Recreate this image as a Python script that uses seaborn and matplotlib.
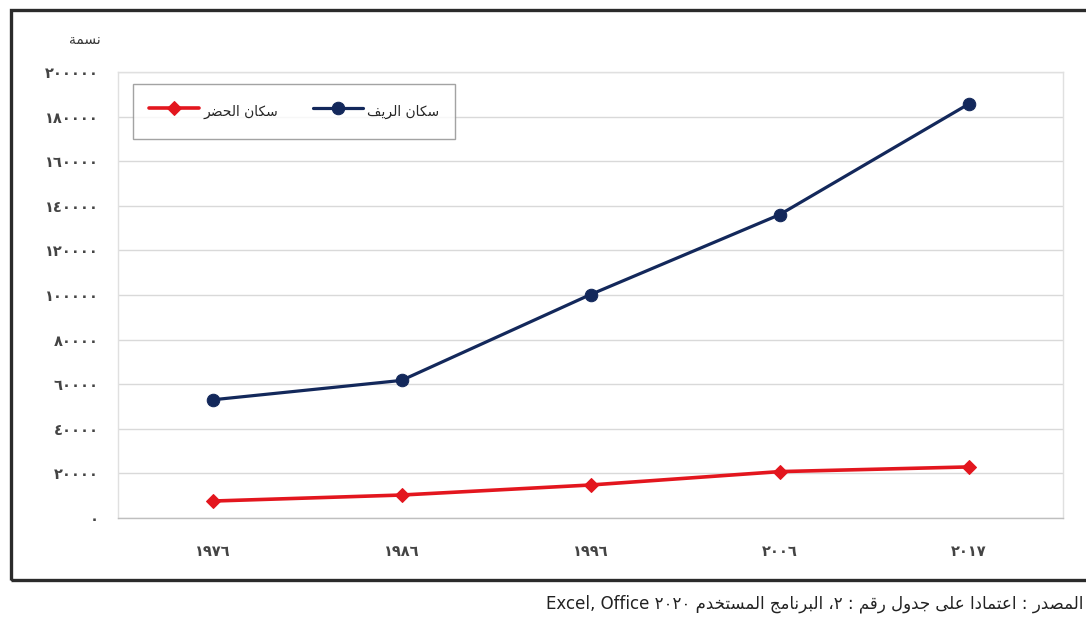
import matplotlib
matplotlib.use("Agg")
import matplotlib.pyplot as plt
from matplotlib.patches import Rectangle
from matplotlib.ticker import FuncFormatter
import pandas as pd
import seaborn as sns

# ---- data -------------------------------------------------------------
years = ["1976", "1986", "1996", "2006", "2017"]
rural = [53000, 61700, 100200, 136000, 185600]   # سكان الريف
urban = [7600, 10300, 14800, 20800, 22900]       # سكان الحضر
rural_name = "سكان الريف"
urban_name = "سكان الحضر"
y_unit = "نسمة"
source_ar = "المصدر : اعتمادا على جدول رقم : ٢، البرنامج المستخدم ٢٠٢٠"
source_en = "Excel, Office"
y_ticks = list(range(0, 200001, 20000))

# ---- minimal Arabic shaping (presentation forms + visual order) -------
FORMS = {
    'ا': ('\uFE8D', '\uFE8E', None, None),
    'ب': ('\uFE8F', '\uFE90', '\uFE91', '\uFE92'),
    'ة': ('\uFE93', '\uFE94', None, None),
    'ت': ('\uFE95', '\uFE96', '\uFE97', '\uFE98'),
    'ج': ('\uFE9D', '\uFE9E', '\uFE9F', '\uFEA0'),
    'ح': ('\uFEA1', '\uFEA2', '\uFEA3', '\uFEA4'),
    'خ': ('\uFEA5', '\uFEA6', '\uFEA7', '\uFEA8'),
    'د': ('\uFEA9', '\uFEAA', None, None),
    'ر': ('\uFEAD', '\uFEAE', None, None),
    'س': ('\uFEB1', '\uFEB2', '\uFEB3', '\uFEB4'),
    'ص': ('\uFEB9', '\uFEBA', '\uFEBB', '\uFEBC'),
    'ض': ('\uFEBD', '\uFEBE', '\uFEBF', '\uFEC0'),
    'ع': ('\uFEC9', '\uFECA', '\uFECB', '\uFECC'),
    'ف': ('\uFED1', '\uFED2', '\uFED3', '\uFED4'),
    'ق': ('\uFED5', '\uFED6', '\uFED7', '\uFED8'),
    'ك': ('\uFED9', '\uFEDA', '\uFEDB', '\uFEDC'),
    'ل': ('\uFEDD', '\uFEDE', '\uFEDF', '\uFEE0'),
    'م': ('\uFEE1', '\uFEE2', '\uFEE3', '\uFEE4'),
    'ن': ('\uFEE5', '\uFEE6', '\uFEE7', '\uFEE8'),
    'و': ('\uFEED', '\uFEEE', None, None),
    'ى': ('\uFEEF', '\uFEF0', None, None),
    'ي': ('\uFEF1', '\uFEF2', '\uFEF3', '\uFEF4'),
}
DIGITS = str.maketrans("0123456789", "٠١٢٣٤٥٦٧٨٩")


def shape_word(word):
    out = []
    for i, ch in enumerate(word):
        if ch not in FORMS:
            out.append(ch)
            continue
        iso, fin, ini, med = FORMS[ch]
        prev = word[i - 1] if i > 0 else None
        nxt = word[i + 1] if i < len(word) - 1 else None
        join_prev = prev in FORMS and FORMS[prev][2] is not None
        join_next = nxt in FORMS and ini is not None
        if join_prev and join_next:
            out.append(med)
        elif join_prev:
            out.append(fin)
        elif join_next:
            out.append(ini)
        else:
            out.append(iso)
    return "".join(reversed(out))


def rtl(text):
    tokens = []
    for tok in reversed(text.split(" ")):
        if all(c in "٠١٢٣٤٥٦٧٨٩" for c in tok):
            tokens.append(tok)
        else:
            tokens.append(shape_word(tok))
    return " ".join(tokens)


def ar_num(v, _pos=None):
    return str(int(v)).translate(DIGITS)


# ---- long-form table for seaborn --------------------------------------
df = pd.DataFrame({
    "pos": list(range(len(years))) * 2,
    "value": rural + urban,
    "series": [rural_name] * len(years) + [urban_name] * len(years),
})

sns.set_theme(style="white")
plt.rcParams["font.family"] = ["DejaVu Sans"]

W, H = 1086, 617
fig = plt.figure(figsize=(W / 100, H / 100), dpi=100)
ax = fig.add_axes([118 / W, 1 - 518 / H, 945 / W, (518 - 72) / H])

navy = "#13285b"
red = "#e3161e"

sns.lineplot(data=df[df.series == rural_name], x="pos", y="value", ax=ax,
             color=navy, linewidth=2.3, marker="o", markersize=9,
             markeredgecolor=navy, label=rural_name)
sns.lineplot(data=df[df.series == urban_name], x="pos", y="value", ax=ax,
             color=red, linewidth=2.6, marker="D", markersize=7,
             markeredgecolor=red, label=urban_name)

ax.set_xlim(-0.5, len(years) - 0.5)
ax.set_ylim(0, 200000)
ax.set_yticks(y_ticks)
ax.yaxis.set_major_formatter(FuncFormatter(ar_num))
ax.set_xticks(range(len(years)))
ax.set_xticklabels([y.translate(DIGITS) for y in years])
ax.set_xlabel("")
ax.set_ylabel("")
ax.grid(axis="y", color="#d9d9d9", linewidth=1)
ax.grid(axis="x", visible=False)
ax.tick_params(axis="y", length=0, pad=14, labelsize=10.5, labelcolor="#444444")
ax.tick_params(axis="x", length=0, pad=19, labelsize=10.5, labelcolor="#444444")
for lab in ax.get_xticklabels() + ax.get_yticklabels():
    lab.set_fontweight("bold")
for side in ("left", "top", "right"):
    ax.spines[side].set_color("#e0e0e0")
    ax.spines[side].set_linewidth(1)
ax.spines["bottom"].set_color("#bfbfbf")
ax.spines["bottom"].set_linewidth(1)

# legend: urban first, then rural, in a framed box
handles, labels = ax.get_legend_handles_labels()
order = [labels.index(urban_name), labels.index(rural_name)]
leg = ax.legend([handles[i] for i in order], [rtl(labels[i]) for i in order],
                ncol=2, loc="upper left",
                bbox_to_anchor=((133 - 118) / 945, (518 - 84) / 446),
                frameon=True, fancybox=False, fontsize=10,
                handlelength=3.6, handleheight=2.2, handletextpad=0.3,
                columnspacing=2.5, borderpad=1.15, borderaxespad=0)
leg.get_frame().set_edgecolor("#8c8c8c")
leg.get_frame().set_linewidth(1)

# unit label above the y axis
fig.text(85 / W, 1 - 40 / H, rtl(y_unit), ha="center", va="center",
         fontsize=10, color="#333333")

# outer frame around the chart
fig.patches.append(Rectangle((11 / W, 1 - 580 / H), (1100 - 11) / W,
                             (580 - 10) / H, transform=fig.transFigure,
                             fill=False, edgecolor="#2b2b2b", linewidth=2.4))

# source line under the frame
fig.text(1083 / W, 1 - 604 / H, source_en + " " + rtl(source_ar),
         ha="right", va="center", fontsize=12, color="#222222")

fig.savefig("out.png", dpi=100)
